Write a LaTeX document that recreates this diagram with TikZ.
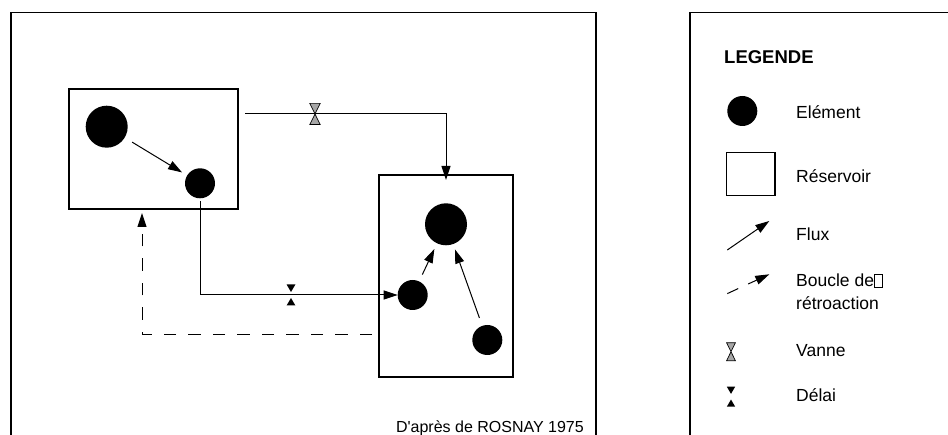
\documentclass[tikz,border=0pt]{standalone}
\usepackage{fontspec}
\setmainfont{Liberation Sans}
\usetikzlibrary{arrows.meta}

% outline box standing in for a glyph the font could not show
\newcommand{\glyphbox}{{\setlength\fboxsep{0pt}\setlength\fboxrule{0.9pt}\fbox{\rule{0pt}{11.5pt}\hspace{7pt}}}}

\tikzset{
  frameline/.style={draw, line width=1.1pt},
  reservoir/.style={rectangle, draw, line width=1.1pt, inner sep=0pt, outer sep=0pt},
  elem/.style={circle, fill=black, inner sep=0pt, outer sep=0pt, minimum size=#1},
  flow/.style={line width=1pt, -{Triangle[length=14pt,width=9pt]}},
  feedback/.style={line width=1pt, dash pattern=on 12.5pt off 12pt, -{Triangle[length=14pt,width=9pt]}},
  txt/.style={inner sep=0pt, anchor=base west, font=\fontsize{17.5}{22.6}\selectfont},
  pics/valve/.style={code={
    \filldraw[fill=black!35, draw=black, line width=0.7pt, line join=miter]
      (-5.2,-10.6) -- (5.2,-10.6) -- (0,0) -- cycle
      (0,0) -- (-5.2,10.6) -- (5.2,10.6) -- cycle;
  }},
  pics/delay/.style={code={
    \fill[black] (-4.4,-10.5) -- (4.4,-10.5) -- (0,-3) -- cycle
      (0,3) -- (-4.4,10.5) -- (4.4,10.5) -- cycle;
  }},
}

\begin{document}
\begin{tikzpicture}[x=1pt, y=-1pt]
  \useasboundingbox (0,0) rectangle (948,435);
  \clip (0,0) rectangle (948,435);

  % outer frames, open at the bottom
  \draw[frameline] (11,445) -- (11,12.7) -- (596,12.7) -- (596,445);
  \draw[frameline] (690,445) -- (690,12.7) -- (955,12.7);

  % reservoirs
  \node[reservoir, minimum width=169pt, minimum height=120pt] (R1) at (153.5,149) {};
  \node[reservoir, minimum width=134pt, minimum height=202pt] (R2) at (446,276) {};

  % elements
  \node[elem=42pt] (e1) at (106.7,126.7) {};
  \node[elem=30pt] (e2) at (200,183.3) {};
  \node[elem=42pt] (e3) at (446,224.3) {};
  \node[elem=30pt] (e4) at (412.7,295) {};
  \node[elem=30pt] (e5) at (487.3,340) {};

  % flows inside the reservoirs
  \draw[flow, shorten <=8.7pt, shorten >=6pt] (e1) -- (e2);
  \draw[flow, shorten <=7.6pt, shorten >=6.3pt] (e4) -- (e3);
  \draw[flow, shorten <=8.4pt, shorten >=5.7pt] (e5) -- (e3);

  % flow between the reservoirs, through a valve
  \coordinate (f1s) at (245,114);
  \coordinate (f1e) at (446,180);
  \draw[flow] (f1s) -| (f1e);
  \pic (v1) at (315,114) {valve};

  % delayed flow from e2 to e4
  \draw[flow, shorten <=3pt] (e2.south) |- (e4.west);
  \pic (d1) at (291,295) {delay};

  % feedback loop
  \coordinate (fbs) at (372,335);
  \coordinate (fbe) at (142,213);
  \draw[feedback] (fbs) -| (fbe);

  % credit
  \node[inner sep=0pt, anchor=base east, font=\fontsize{16}{19}\selectfont] (src) at (584,432) {D\textquotesingle après de ROSNAY 1975};

  % legend
  \node[txt, font=\fontsize{18.5}{22}\selectfont\bfseries] (lg) at (724,64) {LEGENDE};

  \node[elem=30pt] (le) at (742.3,111) {};
  \node[txt] (lt1) at (796,118.3) {Elément};

  \node[reservoir, minimum width=48.3pt, minimum height=43.4pt] (lr) at (750.8,174) {};
  \node[txt] (lt2) at (796,182.7) {Réservoir};

  \coordinate (lfs) at (727.3,250);
  \coordinate (lfe) at (769.3,221);
  \draw[flow] (lfs) -- (lfe);
  \node[txt] (lt3) at (796,240.7) {Flux};

  \coordinate (lbs) at (727.3,293.6);
  \coordinate (lbe) at (769.3,274.3);
  \draw[feedback, dash pattern=on 12pt off 11pt] (lbs) -- (lbe);
  \node[txt] (lt4) at (796,286.7) {Boucle de\glyphbox};
  \node[txt] (lt4b) at (796,309.3) {rétroaction};

  \pic[scale=0.85] (lv) at (731,351.7) {valve};
  \node[txt] (lt5) at (796,356.7) {Vanne};

  \pic[scale=0.95] (ld) at (731,396.7) {delay};
  \node[txt] (lt6) at (796,401.7) {Délai};
\end{tikzpicture}
\end{document}
